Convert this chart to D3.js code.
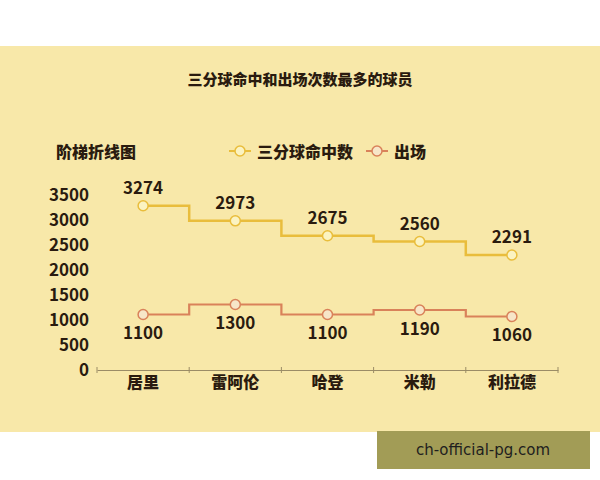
<!DOCTYPE html>
<html><head><meta charset="utf-8">
<script src="https://cdn.jsdelivr.net/npm/d3@7"></script>
<style>html,body{margin:0;padding:0;background:#fff;}svg{display:block;}</style>
</head><body>
<svg id="c" width="600" height="480"></svg>
<script>
const categories = ["居里", "雷阿伦", "哈登", "米勒", "利拉德"];
const threes = [3274, 2973, 2675, 2560, 2291];
const games = [1100, 1300, 1100, 1190, 1060];
const yTicks = [0, 500, 1000, 1500, 2000, 2500, 3000, 3500];
const seriesNames = ["三分球命中数", "出场"];
const title = "三分球命中和出场次数最多的球员";
const subtitle = "阶梯折线图";

const FONT = "'Noto Sans CJK SC', 'Noto Sans', sans-serif";
const TXT = "#2a1b0f";
const YEL = "#e9bd3c", RED = "#d9825a";
const svg = d3.select("#c");

svg.append("rect").attr("x",0).attr("y",46).attr("width",600).attr("height",386).attr("fill","#f8e8a9");

svg.append("text").attr("x",300).attr("y",78).attr("text-anchor","middle").attr("dominant-baseline","central")
  .attr("font-family",FONT).attr("font-weight",900).attr("font-size",15).attr("fill",TXT).text(title);
svg.append("text").attr("x",56).attr("y",151).attr("dominant-baseline","central")
  .attr("font-family",FONT).attr("font-weight",900).attr("font-size",16).attr("fill",TXT).text(subtitle);

// legend
const legend = [{x:229, c:YEL, f:"#fbf3c2", t:seriesNames[0]},{x:366, c:RED, f:"#f7e6c8", t:seriesNames[1]}];
legend.forEach(l=>{
  svg.append("line").attr("x1",l.x).attr("x2",l.x+22).attr("y1",151).attr("y2",151).attr("stroke",l.c).attr("stroke-width",2);
  svg.append("circle").attr("cx",l.x+11).attr("cy",151).attr("r",5).attr("fill",l.f).attr("stroke",l.c).attr("stroke-width",1.5);
  svg.append("text").attr("x",l.x+28).attr("y",151).attr("dominant-baseline","central")
    .attr("font-family",FONT).attr("font-weight",900).attr("font-size",16).attr("fill",TXT).text(l.t);
});

const x = d3.scaleBand().domain(categories).range([97, 558]).padding(0);
const y = d3.scaleLinear().domain([0, 3500]).range([369.5, 194.5]);
const bw = x.bandwidth();
const cx = c => x(c) + bw/2;

// y axis labels
const ya = svg.append("g").attr("transform","translate(89,0)")
  .call(d3.axisLeft(y).tickValues(yTicks).tickSize(0).tickPadding(0).tickFormat(d3.format("d")));
ya.select(".domain").remove();
ya.selectAll("text").attr("font-family",FONT).attr("font-weight",700).attr("font-size",17).attr("fill",TXT).attr("dy","0.33em");

// x axis
const xa = svg.append("g").attr("transform","translate(0,370)")
  .call(d3.axisBottom(x).tickSize(0).tickPadding(7));
xa.select(".domain").attr("stroke","#9b8c66").attr("stroke-width",1.2);
xa.selectAll("text").attr("font-family",FONT).attr("font-weight",900).attr("font-size",16).attr("fill",TXT);
const bounds = categories.map(c=>x(c)).concat([x(categories[categories.length-1])+bw]);
svg.append("g").selectAll("line").data(bounds).join("line")
  .attr("x1",d=>d).attr("x2",d=>d).attr("y1",367).attr("y2",373).attr("stroke","#9b8c66").attr("stroke-width",1);

function series(vals, color, fill, above, sw){
  const pts = categories.map((c,i)=>[cx(c), y(vals[i]), vals[i]]);
  svg.append("path").attr("d", d3.line().curve(d3.curveStep)(pts.map(p=>[p[0],p[1]])))
    .attr("fill","none").attr("stroke",color).attr("stroke-width",sw);
  svg.append("g").selectAll("circle").data(pts).join("circle")
    .attr("cx",d=>d[0]).attr("cy",d=>d[1]).attr("r",5).attr("fill",fill).attr("stroke",color).attr("stroke-width",1.5);
  svg.append("g").selectAll("text").data(pts).join("text")
    .attr("x",d=>d[0]).attr("y",d=>d[1] + (above ? -19 : 17)).attr("text-anchor","middle").attr("dominant-baseline","central")
    .attr("font-family",FONT).attr("font-weight",700).attr("font-size",17).attr("fill",TXT).text(d=>d[2]);
}
series(threes, YEL, "#fbf3c2", true, 2.5);
series(games, RED, "#f7e6c8", false, 2.2);

// watermark
svg.append("rect").attr("x",377).attr("y",431).attr("width",213).attr("height",38).attr("fill","#a29c56");
svg.append("text").attr("x",483).attr("y",450).attr("text-anchor","middle").attr("dominant-baseline","central")
  .attr("font-family","'DejaVu Sans', sans-serif").attr("font-size",15).attr("fill","#1e1e1e").text("ch-official-pg.com");
</script>
</body></html>
